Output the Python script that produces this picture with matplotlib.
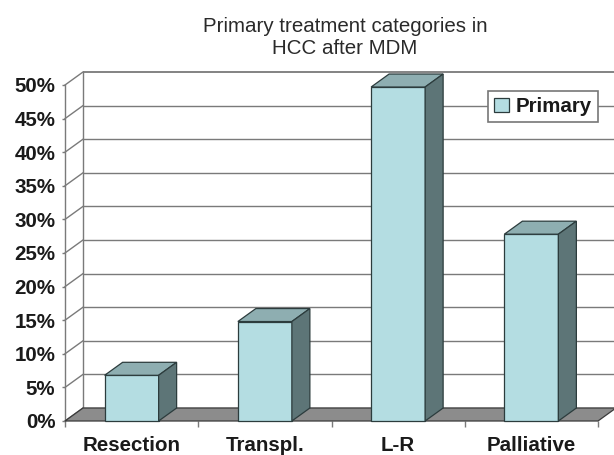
import matplotlib
matplotlib.use("Agg")
import matplotlib.pyplot as plt
from matplotlib.patches import Polygon
from matplotlib.ticker import FixedLocator

plt.rcParams['font.family'] = ['Liberation Sans', 'DejaVu Sans']

# ---- data ----
categories = ["Resection", "Transpl.", "L-R", "Palliative"]
values = [6.8, 14.8, 49.7, 27.8]
series_name = "Primary"
y_ticks = [0, 5, 10, 15, 20, 25, 30, 35, 40, 45, 50]
y_tick_labels = ["0%", "5%", "10%", "15%", "20%", "25%", "30%", "35%", "40%", "45%", "50%"]
title = "Primary treatment categories in\nHCC after MDM"

# ---- styles ----
W, H = 614, 455
front_c = "#b4dde2"
top_c = "#8eaeb1"
side_c = "#5d7577"
edge_c = "#2c3c3d"
floor_c = "#8c8c8c"
grid_c = "#7a7a7a"
text_c = "#1a1a1a"
FS = 14.8

fig = plt.figure(figsize=(W / 100, H / 100), dpi=100)
# axes: x from -0.5..3.5 maps to px 65..598, y 0..50 maps to px 421..85
ax = fig.add_axes([65 / W, (H - 421) / H, (598 - 65) / W, (421 - 85) / H])
n = len(categories)
ax.set_xlim(-0.5, n - 0.5)
ax.set_ylim(0, 50)

px_per_cat = (598 - 65) / n
px_per_val = (421 - 85) / 50
DX = 18 / px_per_cat       # depth offset in category units
DY = 13 / px_per_val       # depth offset in value units
bw = 54 / px_per_cat       # bar width

x0, x1 = -0.5, n - 0.5

# back wall gridlines
for v in y_ticks:
    lw = 1.3 if v == y_ticks[-1] else 1.0
    ax.plot([x0 + DX, x1 + DX + 0.2], [v + DY, v + DY], color=grid_c, lw=lw,
            clip_on=False, zorder=1, solid_capstyle='butt')
    # left side wall diagonals
    ax.plot([x0, x0 + DX], [v, v + DY], color=grid_c, lw=1.0, clip_on=False, zorder=1)
# back wall left edge
ax.plot([x0 + DX, x0 + DX], [DY, y_ticks[-1] + DY], color=grid_c, lw=1.0, clip_on=False, zorder=1)

# floor
floor = Polygon([(x0, 0), (x1, 0), (x1 + DX, DY), (x0 + DX, DY)], closed=True,
                facecolor=floor_c, edgecolor="#3a3a3a", lw=0.9, clip_on=False, zorder=2)
ax.add_patch(floor)

# bars
xs = list(range(n))
bars = ax.bar(xs, values, width=bw, color=front_c, edgecolor=edge_c, linewidth=0.9,
              zorder=4, clip_on=False, label=series_name)
for xi, v in zip(xs, values):
    l, r = xi - bw / 2, xi + bw / 2
    top = Polygon([(l, v), (r, v), (r + DX, v + DY), (l + DX, v + DY)], closed=True,
                  facecolor=top_c, edgecolor=edge_c, lw=0.9, clip_on=False, zorder=4)
    side = Polygon([(r, 0), (r + DX, DY), (r + DX, v + DY), (r, v)], closed=True,
                   facecolor=side_c, edgecolor=edge_c, lw=0.9, clip_on=False, zorder=4)
    ax.add_patch(top)
    ax.add_patch(side)

# axes styling
for s in ["top", "right", "bottom"]:
    ax.spines[s].set_visible(False)
ax.spines["left"].set_color(grid_c)
ax.spines["left"].set_linewidth(1.0)
ax.spines["left"].set_zorder(1)

ax.set_yticks(y_ticks)
ax.set_yticklabels(y_tick_labels, fontsize=FS, fontweight="bold", color=text_c)
ax.tick_params(axis="y", length=2.5, width=1, color=grid_c, pad=4.5)

ax.set_xticks(xs)
ax.set_xticklabels(categories, fontsize=FS, fontweight="bold", color=text_c)
ax.tick_params(axis="x", which="major", length=0, pad=10.5)
ax.xaxis.set_minor_locator(FixedLocator([i - 0.5 for i in range(n + 1)]))
ax.tick_params(axis="x", which="minor", length=4, width=1, color=grid_c)
ax.patch.set_visible(False)

# title
fig.text(345 / W, 1 - 37 / H, title, ha="center", va="center", fontsize=FS,
         color="#2a2a2a", linespacing=1.2)

# legend
leg = ax.legend(handles=[bars], labels=[series_name],
                loc="upper left", bbox_to_anchor=(488 / W, 1 - 91 / H),
                bbox_transform=fig.transFigure, frameon=True, fancybox=False,
                prop={"size": FS, "weight": "bold"}, handlelength=0.7, handleheight=0.7,
                handletextpad=0.35, borderpad=0.3, borderaxespad=0)
leg.get_frame().set_edgecolor("#777777")
leg.get_frame().set_linewidth(1.2)
leg.get_frame().set_alpha(1)
leg.set_zorder(10)
for t in leg.get_texts():
    t.set_color(text_c)

fig.savefig("out.png", dpi=100)
